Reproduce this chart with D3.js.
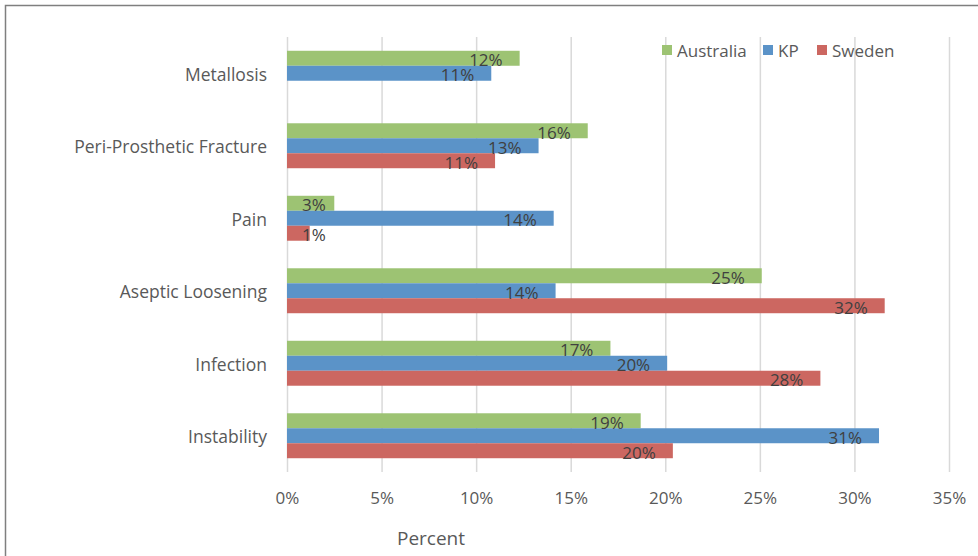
<!DOCTYPE html>
<html>
<head>
<meta charset="utf-8">
<script src="https://cdn.jsdelivr.net/npm/d3@7"></script>
<style>
  body { margin: 0; background: #fff; }
  text { font-family: "Open Sans", "Liberation Sans", sans-serif; }
</style>
</head>
<body>
<div id="chart"></div>
<script>
// Data (top to bottom)
const categories = ['Metallosis', 'Peri-Prosthetic Fracture', 'Pain', 'Aseptic Loosening', 'Infection', 'Instability'];
const seriesNames = ['Australia', 'KP', 'Sweden'];
const australia = [0.123, 0.159, 0.025, 0.251, 0.171, 0.187];
const kp = [0.108, 0.133, 0.141, 0.142, 0.201, 0.313];
const sweden = [null, 0.110, 0.012, 0.316, 0.282, 0.204];
const ticks = [0, 0.05, 0.10, 0.15, 0.20, 0.25, 0.30, 0.35];
const colors = ['#9dc373', '#5b93c8', '#cc6761'];

const seriesValues = [australia, kp, sweden];

// Canvas
const width = 978;
const height = 556;

const svg = d3.select('#chart')
  .append('svg')
  .attr('width', width)
  .attr('height', height);

// Frame
svg.append('path')
  .attr('d', `M5.5,${height} V5.5 H${width}`)
  .attr('fill', 'none')
  .attr('stroke', '#7f7f7f')
  .attr('stroke-width', 1.5);

// Plot area
const plotLeft = 287;
const plotRight = 949;
const plotTop = 37;
const plotBottom = 472;

const xScale = d3.scaleLinear().domain([0, 0.35]).range([plotLeft, plotRight]);
const yScale = d3.scaleBand().domain(categories).range([plotTop, plotBottom]).paddingInner(0.38).paddingOuter(0.19);
const inner = d3.scaleBand().domain(seriesNames).range([0, yScale.bandwidth()]);

// Gridlines
svg.append('g')
  .selectAll('line')
  .data(ticks).enter()
  .append('line')
  .attr('x1', (d) => xScale(d) + 0.5)
  .attr('x2', (d) => xScale(d) + 0.5)
  .attr('y1', plotTop)
  .attr('y2', plotBottom)
  .attr('stroke', '#d9d9d9')
  .attr('stroke-width', 1.5);

// X axis labels
const xAxis = d3.axisBottom(xScale).tickValues(ticks).tickFormat(d3.format('.0%')).tickSize(0).tickPadding(0);
const gx = svg.append('g').attr('transform', 'translate(0, 504)').call(xAxis);
gx.select('.domain').remove();
gx.selectAll('text')
  .attr('dy', 0)
  .attr('font-size', 17)
  .attr('fill', '#595959')
  .style('font-family', '"Open Sans", "Liberation Sans", sans-serif');

// Y axis labels
const yAxis = d3.axisLeft(yScale).tickSize(0).tickPadding(20);
const gy = svg.append('g').attr('transform', `translate(${plotLeft}, 2)`).call(yAxis);
gy.select('.domain').remove();
gy.selectAll('text')
  .attr('font-size', 17.5)
  .attr('fill', '#595959')
  .style('font-family', '"Open Sans", "Liberation Sans", sans-serif');

// Bars
const rows = [];
categories.forEach((c, i) => {
  seriesNames.forEach((s, j) => {
    if (seriesValues[j][i] !== null) rows.push({ cat: c, series: s, value: seriesValues[j][i], color: colors[j] });
  });
});

svg.append('g')
  .selectAll('rect')
  .data(rows).enter()
  .append('rect')
  .attr('x', xScale(0))
  .attr('y', (d) => yScale(d.cat) + inner(d.series))
  .attr('width', (d) => xScale(d.value) - xScale(0))
  .attr('height', inner.bandwidth())
  .attr('fill', (d) => d.color);

// Data labels (short bars get the label pinned near the axis)
const isShort = (d) => xScale(d.value) - xScale(0) < 50;
svg.append('g')
  .selectAll('text')
  .data(rows).enter()
  .append('text')
  .attr('x', (d) => (isShort(d) ? xScale(0) + 15 : xScale(d.value) - 17))
  .attr('y', (d) => yScale(d.cat) + inner(d.series) + inner.bandwidth() / 2 + 8)
  .attr('text-anchor', (d) => (isShort(d) ? 'start' : 'end'))
  .attr('font-size', 17)
  .attr('fill', '#404040')
  .text((d) => d3.format('.0%')(d.value));

// Legend
const legendX = [662, 763, 817];
const legend = svg.append('g');
seriesNames.forEach((s, j) => {
  legend.append('rect')
    .attr('x', legendX[j])
    .attr('y', 45)
    .attr('width', 10)
    .attr('height', 10)
    .attr('fill', colors[j]);
  legend.append('text')
    .attr('x', legendX[j] + 15)
    .attr('y', 57)
    .attr('font-size', 17)
    .attr('fill', '#595959')
    .text(s);
});

// Axis title
svg.append('text')
  .attr('x', 431)
  .attr('y', 545)
  .attr('text-anchor', 'middle')
  .attr('font-size', 19)
  .attr('fill', '#595959')
  .text('Percent');
</script>
</body>
</html>
